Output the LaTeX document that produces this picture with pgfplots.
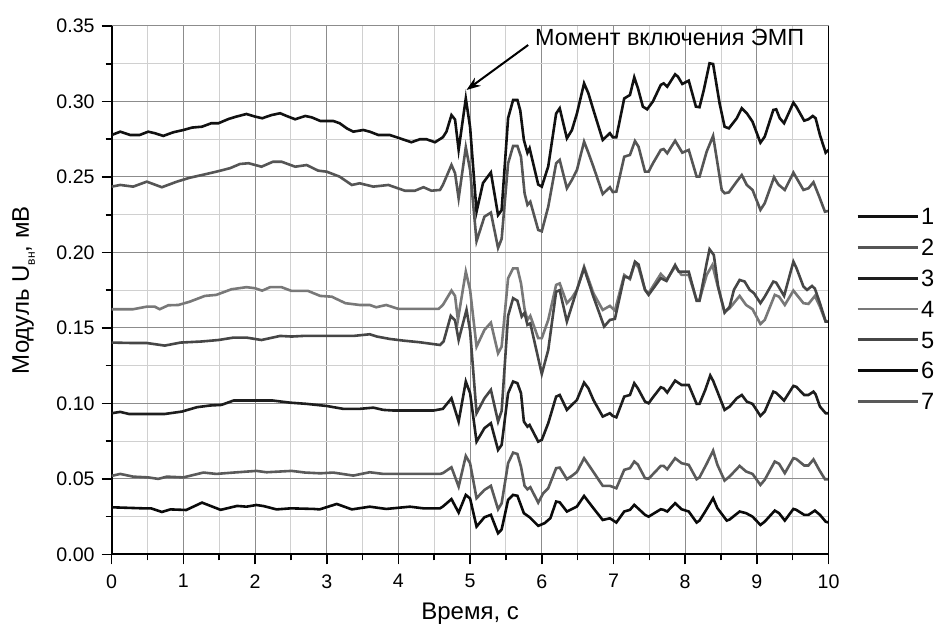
\documentclass[border=0pt]{standalone}
\usepackage{fontspec}
\setmainfont{Liberation Sans}
\usepackage{pgfplots}
\pgfplotsset{compat=1.18}
\usetikzlibrary{arrows.meta}

\definecolor{majgrid}{RGB}{140,140,140}
\definecolor{mingrid}{RGB}{208,208,208}
\definecolor{cA}{RGB}{17,17,17}
\definecolor{cB}{RGB}{85,85,85}
\definecolor{cC}{RGB}{30,30,30}
\definecolor{cD}{RGB}{120,120,120}
\definecolor{cE}{RGB}{70,70,70}
\definecolor{cF}{RGB}{10,10,10}
\definecolor{cG}{RGB}{90,90,90}

\begin{document}
\begin{tikzpicture}
\begin{axis}[
    scale only axis, width=358.5pt, height=264.25pt,
    xmin=0, xmax=10, ymin=0, ymax=0.35,
    xtick={0,1,2,3,4,5,6,7,8,9,10},
    ytick={0,0.05,0.1,0.15,0.2,0.25,0.3,0.35},
    minor x tick num=1, minor y tick num=1,
    grid=both,
    major grid style={majgrid, line width=0.5pt},
    minor grid style={mingrid, line width=0.5pt},
    axis lines=left, axis line style={-, black, line width=1pt},
    tick align=outside, major tick length=5pt, minor tick length=3pt,
    tick style={black, line width=0.8pt},
    /pgf/number format/assume math mode=true,
    ticklabel style={font=\fontsize{9.8}{11}\selectfont},
    xticklabel style={yshift=-1.5pt},
    yticklabel style={/pgf/number format/.cd, fixed, fixed zerofill, precision=2},
    xlabel={Время, с},
    ylabel={Модуль U\raisebox{-3pt}{\fontsize{6}{6}\selectfont вн}, мВ},
    label style={font=\fontsize{12}{14}\selectfont},
    xlabel style={at={(axis description cs:0.5,-0.092)}, anchor=north, inner sep=0pt},
    ylabel style={at={(axis description cs:-0.139,0.5)}, anchor=north, inner sep=0pt},
    legend cell align=left,
    legend image code/.code={\draw[#1, line width=1.45pt] (0pt,0pt) -- (30pt,0pt);},
    legend style={draw=none, fill=none, inner sep=0pt,
        font=\fontsize{11.8}{13}\selectfont,
        at={(1.038,0.4645)}, anchor=west, row sep=5pt,
        nodes={inner sep=1pt, text height=8.4pt, text depth=0pt}},
    clip mode=individual,
]
\addplot[cA, line width=1.3pt] coordinates {
(0,0.2778)(0.12,0.280)(0.26,0.2778)(0.39,0.2778)(0.51,0.280)(0.60,0.279)(0.72,0.2772)(0.86,0.2796)(1.0,0.2811)(1.12,0.2827)(1.26,0.2833)(1.39,0.2856)(1.49,0.2856)(1.63,0.2884)(1.74,0.290)(1.88,0.2917)(2.0,0.290)(2.10,0.2889)(2.23,0.291)(2.35,0.2922)(2.44,0.2904)(2.56,0.2882)(2.70,0.2904)(2.79,0.2895)(2.91,0.2871)(3.09,0.2871)(3.18,0.2856)(3.28,0.2822)(3.37,0.280)(3.51,0.2811)(3.60,0.280)(3.72,0.2778)(3.88,0.2778)(4.02,0.2756)(4.18,0.273)(4.30,0.275)(4.39,0.275)(4.51,0.273)(4.62,0.2763)
(4.67,0.280)(4.74,0.291)(4.79,0.288)(4.84,0.268)(4.94,0.302)(5.00,0.283)(5.09,0.227)(5.18,0.246)(5.29,0.253)(5.39,0.2248)(5.44,0.228)(5.53,0.289)(5.60,0.301)(5.66,0.301)(5.70,0.294)(5.75,0.2745)(5.80,0.266)(5.83,0.269)(5.95,0.245)(6.00,0.2436)(6.09,0.257)(6.20,0.292)(6.25,0.2955)(6.35,0.2756)(6.42,0.281)(6.49,0.292)(6.59,0.312)(6.65,0.3054)(6.72,0.2944)(6.85,0.2745)(6.95,0.279)(6.99,0.2763)(7.04,0.2763)(7.15,0.302)(7.23,0.3043)(7.29,0.316)(7.34,0.309)(7.41,0.2966)(7.47,0.2948)(7.55,0.300)(7.66,0.311)(7.70,0.312)(7.75,0.3098)(7.86,0.318)(7.90,0.3164)(7.96,0.3116)(8.05,0.3138)(8.15,0.2966)(8.20,0.2962)(8.26,0.3076)(8.34,0.3253)(8.39,0.3248)(8.48,0.2988)(8.55,0.2833)(8.61,0.2822)(8.72,0.2889)(8.79,0.2955)(8.86,0.2922)(8.94,0.2866)(9.05,0.2727)(9.11,0.2767)(9.23,0.2944)(9.27,0.2948)(9.32,0.2889)(9.38,0.2856)(9.51,0.2992)(9.55,0.2966)(9.66,0.2873)(9.72,0.2882)(9.78,0.2904)(9.82,0.2889)(9.88,0.2778)(9.96,0.2661)(10.0,0.2679)
};
\addlegendentry{1}
\addplot[cB, line width=1.3pt] coordinates {
(0,0.2436)(0.12,0.2447)(0.30,0.2436)(0.49,0.2469)(0.70,0.2432)(0.91,0.2469)(1.09,0.2495)(1.26,0.2513)(1.46,0.2535)(1.65,0.2558)(1.79,0.2586)(1.91,0.2591)(2.09,0.2568)(2.25,0.2601)(2.37,0.2601)(2.56,0.2568)(2.72,0.2579)(2.88,0.2542)(3.0,0.2535)(3.18,0.2502)(3.35,0.2447)(3.46,0.2458)(3.65,0.2436)(3.86,0.2447)(4.09,0.2409)(4.23,0.2409)(4.35,0.2432)(4.46,0.2409)(4.58,0.2414)(4.62,0.2447)
(4.74,0.258)(4.79,0.2525)(4.84,0.2359)(4.94,0.2697)(5.00,0.2546)(5.09,0.2075)(5.20,0.2237)(5.29,0.2264)(5.39,0.203)(5.44,0.209)(5.53,0.259)(5.60,0.2705)(5.66,0.2705)(5.71,0.2634)(5.76,0.2392)(5.80,0.2315)(5.84,0.2336)(5.95,0.2149)(6.00,0.214)(6.09,0.2303)(6.20,0.259)(6.25,0.2613)(6.35,0.2425)(6.42,0.248)(6.49,0.2546)(6.59,0.2734)(6.65,0.266)(6.72,0.2568)(6.85,0.2387)(6.95,0.2432)(6.99,0.2400)(7.04,0.2403)(7.15,0.2634)(7.23,0.2646)(7.30,0.2738)(7.35,0.270)(7.44,0.2535)(7.49,0.2535)(7.55,0.259)(7.66,0.2679)(7.70,0.2685)(7.75,0.2657)(7.86,0.274)(7.96,0.2661)(8.05,0.2679)(8.16,0.2502)(8.20,0.2502)(8.30,0.2668)(8.39,0.2772)(8.51,0.2414)(8.55,0.2392)(8.61,0.2398)(8.72,0.2470)(8.79,0.2513)(8.86,0.2447)(8.94,0.2414)(9.05,0.2282)(9.11,0.2326)(9.24,0.2498)(9.30,0.2450)(9.39,0.2414)(9.51,0.2529)(9.65,0.2414)(9.72,0.2425)(9.79,0.2465)(9.87,0.2370)(9.95,0.2270)(10.0,0.2275)
};
\addlegendentry{2}
\addplot[cC, line width=1.3pt] coordinates {
(0,0.0935)(0.12,0.0944)(0.24,0.093)(0.74,0.093)(0.98,0.0946)(1.19,0.0975)(1.37,0.0986)(1.53,0.099)(1.70,0.1019)(1.88,0.1019)(2.25,0.1019)(2.49,0.1005)(2.72,0.0997)(3.0,0.0983)(3.23,0.0964)(3.46,0.0964)(3.65,0.0972)(3.79,0.0957)(3.93,0.0953)(4.49,0.0953)(4.62,0.0964)
(4.74,0.1034)(4.84,0.088)(4.94,0.1145)(5.00,0.1068)(5.09,0.0747)(5.20,0.0836)(5.29,0.0869)(5.39,0.0692)(5.44,0.0725)(5.53,0.1068)(5.60,0.1145)(5.66,0.1134)(5.71,0.1068)(5.75,0.088)(5.80,0.0846)(5.83,0.0857)(5.95,0.0747)(6.00,0.0758)(6.09,0.0869)(6.20,0.1045)(6.25,0.1056)(6.35,0.0957)(6.42,0.099)(6.49,0.1023)(6.59,0.1138)(6.65,0.110)(6.72,0.1023)(6.85,0.0913)(6.95,0.0935)(6.99,0.0917)(7.04,0.0908)(7.15,0.1045)(7.23,0.1056)(7.29,0.1134)(7.34,0.1100)(7.44,0.1012)(7.49,0.1001)(7.55,0.104)(7.66,0.1107)(7.70,0.110)(7.75,0.1072)(7.86,0.1151)(7.95,0.1122)(8.05,0.1122)(8.16,0.0997)(8.20,0.0997)(8.28,0.1089)(8.35,0.1185)(8.39,0.1150)(8.45,0.1078)(8.55,0.0957)(8.62,0.0979)(8.72,0.1034)(8.79,0.1056)(8.86,0.1012)(8.94,0.0997)(9.05,0.0917)(9.11,0.0946)(9.23,0.1078)(9.27,0.1070)(9.38,0.1019)(9.51,0.1116)(9.55,0.111)(9.66,0.1056)(9.72,0.1056)(9.79,0.1078)(9.82,0.106)(9.88,0.0979)(9.96,0.0935)(10.0,0.0935)
};
\addlegendentry{3}
\addplot[cD, line width=1.3pt] coordinates {
(0,0.1624)(0.30,0.1624)(0.49,0.1641)(0.60,0.1641)(0.67,0.1624)(0.79,0.165)(0.93,0.1652)(1.09,0.1674)(1.30,0.1712)(1.46,0.1719)(1.67,0.1756)(1.88,0.177)(2.0,0.1763)(2.10,0.1747)(2.21,0.177)(2.37,0.177)(2.51,0.1745)(2.74,0.1745)(2.91,0.1712)(3.07,0.1707)(3.26,0.1664)(3.46,0.1652)(3.60,0.1652)(3.69,0.1637)(3.83,0.1652)(4.0,0.1626)(4.56,0.1626)(4.62,0.1652)
(4.74,0.1747)(4.79,0.1712)(4.83,0.1553)(4.94,0.1873)(5.00,0.1752)(5.09,0.1376)(5.20,0.1487)(5.29,0.1535)(5.39,0.1332)(5.44,0.1376)(5.53,0.1829)(5.60,0.1895)(5.66,0.1895)(5.71,0.1796)(5.76,0.1624)(5.80,0.1553)(5.84,0.158)(5.95,0.1432)(6.00,0.1432)(6.09,0.1553)(6.20,0.1785)(6.25,0.1795)(6.35,0.1664)(6.42,0.170)(6.49,0.1752)(6.59,0.1906)(6.72,0.173)(6.85,0.1619)(6.95,0.1646)(7.02,0.1615)(7.15,0.1851)(7.23,0.1823)(7.30,0.1932)(7.35,0.190)(7.44,0.1752)(7.49,0.173)(7.66,0.1858)(7.74,0.1818)(7.86,0.1906)(7.95,0.1851)(8.05,0.1851)(8.16,0.1685)(8.20,0.1685)(8.30,0.1851)(8.38,0.1917)(8.45,0.1785)(8.55,0.1608)(8.62,0.163)(8.76,0.1712)(8.85,0.1652)(8.94,0.1624)(9.05,0.1526)(9.11,0.1553)(9.25,0.1719)(9.31,0.1707)(9.39,0.1652)(9.51,0.1747)(9.65,0.1664)(9.72,0.1659)(9.81,0.1712)(9.88,0.1641)(9.96,0.1542)(10.0,0.1542)
};
\addlegendentry{4}
\addplot[cE, line width=1.3pt] coordinates {
(0,0.1403)(0.30,0.140)(0.49,0.140)(0.74,0.1383)(0.96,0.1403)(1.25,0.141)(1.49,0.142)(1.70,0.1436)(1.88,0.1436)(2.09,0.142)(2.35,0.1447)(2.51,0.1443)(2.67,0.1447)(3.0,0.1447)(3.37,0.1447)(3.60,0.1458)(3.70,0.1443)(3.88,0.1427)(4.07,0.1416)(4.30,0.1405)(4.58,0.1387)(4.63,0.141)
(4.73,0.158)(4.79,0.155)(4.84,0.142)(4.95,0.162)(5.00,0.148)(5.09,0.0935)(5.20,0.1034)(5.29,0.109)(5.39,0.088)(5.44,0.095)(5.53,0.158)(5.60,0.1697)(5.66,0.168)(5.72,0.1575)(5.76,0.160)(5.80,0.152)(5.84,0.153)(6.00,0.1195)(6.09,0.1354)(6.20,0.174)(6.25,0.175)(6.35,0.1542)(6.49,0.1752)(6.59,0.1895)(6.72,0.1707)(6.87,0.1509)(6.95,0.1553)(7.02,0.156)(7.15,0.184)(7.23,0.183)(7.30,0.1939)(7.35,0.192)(7.44,0.1752)(7.49,0.1719)(7.66,0.183)(7.74,0.1811)(7.86,0.1917)(7.91,0.1873)(8.05,0.1873)(8.16,0.168)(8.20,0.168)(8.30,0.1929)(8.34,0.2021)(8.40,0.1983)(8.46,0.1774)(8.55,0.1601)(8.62,0.164)(8.68,0.1752)(8.76,0.1818)(8.83,0.1807)(8.90,0.1752)(8.96,0.173)(9.05,0.1664)(9.11,0.1707)(9.23,0.1807)(9.27,0.180)(9.38,0.1712)(9.51,0.1939)(9.55,0.190)(9.65,0.1774)(9.70,0.1752)(9.77,0.1778)(9.81,0.176)(9.88,0.1664)(9.96,0.1542)(10.0,0.1542)
};
\addlegendentry{5}
\addplot[cF, line width=1.3pt] coordinates {
(0,0.0312)(0.44,0.0305)(0.55,0.0305)(0.70,0.0281)(0.82,0.0298)(1.04,0.0294)(1.26,0.0343)(1.52,0.0295)(1.75,0.0321)(1.88,0.0316)(2.02,0.0327)(2.12,0.0320)(2.30,0.0298)(2.50,0.0305)(2.82,0.0301)(2.90,0.0298)(3.14,0.0334)(3.35,0.0298)(3.60,0.0316)(3.83,0.0301)(4.16,0.0316)(4.35,0.0305)(4.58,0.0305)(4.62,0.0317)
(4.74,0.0366)(4.84,0.0277)(4.94,0.0394)(5.00,0.0370)(5.09,0.0184)(5.20,0.0246)(5.29,0.0262)(5.39,0.014)(5.44,0.0165)(5.53,0.0361)(5.60,0.0394)(5.66,0.0388)(5.75,0.0273)(5.83,0.0246)(5.95,0.0189)(6.04,0.0207)(6.12,0.024)(6.20,0.035)(6.25,0.0345)(6.35,0.0284)(6.49,0.0317)(6.59,0.0387)(6.72,0.0306)(6.85,0.0228)(6.95,0.0239)(7.04,0.0211)(7.15,0.0284)(7.23,0.0295)(7.29,0.0328)(7.34,0.0306)(7.44,0.0262)(7.49,0.025)(7.66,0.0299)(7.70,0.0295)(7.75,0.0284)(7.86,0.0339)(7.95,0.0299)(8.05,0.0284)(8.16,0.0211)(8.20,0.0224)(8.28,0.0284)(8.39,0.0372)(8.45,0.0306)(8.58,0.0224)(8.62,0.0231)(8.76,0.0284)(8.85,0.0273)(8.94,0.025)(9.05,0.0195)(9.11,0.0217)(9.25,0.029)(9.31,0.0273)(9.39,0.0224)(9.51,0.0301)(9.55,0.0295)(9.66,0.0262)(9.72,0.0262)(9.81,0.029)(9.88,0.0262)(9.96,0.0217)(10.0,0.0211)
};
\addlegendentry{6}
\addplot[cG, line width=1.3pt] coordinates {
(0,0.052)(0.12,0.0533)(0.30,0.0515)(0.51,0.051)(0.65,0.050)(0.77,0.0515)(1.0,0.051)(1.28,0.0542)(1.46,0.0533)(1.70,0.0542)(2.02,0.0553)(2.16,0.0544)(2.51,0.0553)(2.70,0.0542)(2.91,0.0537)(3.09,0.0542)(3.37,0.0522)(3.60,0.0544)(3.79,0.0533)(4.58,0.0533)(4.62,0.0538)
(4.74,0.0577)(4.84,0.0449)(4.94,0.0652)(5.00,0.0603)(5.09,0.0372)(5.20,0.0427)(5.29,0.0454)(5.39,0.0299)(5.44,0.0338)(5.53,0.0604)(5.60,0.0674)(5.66,0.0665)(5.71,0.0581)(5.76,0.0454)(5.80,0.0431)(5.84,0.0445)(5.95,0.0343)(6.02,0.0405)(6.09,0.0438)(6.20,0.0571)(6.25,0.0575)(6.35,0.0498)(6.42,0.052)(6.49,0.0546)(6.59,0.0637)(6.72,0.0546)(6.85,0.0454)(6.95,0.0454)(7.04,0.0438)(7.15,0.056)(7.23,0.0571)(7.29,0.0615)(7.34,0.0595)(7.44,0.0505)(7.49,0.0501)(7.66,0.0586)(7.70,0.0586)(7.75,0.0564)(7.86,0.0637)(7.95,0.0604)(8.05,0.0593)(8.16,0.0498)(8.20,0.0510)(8.30,0.0600)(8.39,0.0687)(8.45,0.0593)(8.55,0.0489)(8.62,0.0516)(8.76,0.0586)(8.85,0.0549)(8.94,0.0533)(9.05,0.046)(9.11,0.0494)(9.25,0.0615)(9.31,0.060)(9.39,0.0538)(9.51,0.0637)(9.55,0.0632)(9.66,0.0589)(9.72,0.0589)(9.79,0.0629)(9.87,0.0560)(9.95,0.0498)(10.0,0.0498)
};
\addlegendentry{7}
\draw[black, line width=0.9pt] (rel axis cs:1,0) -- (rel axis cs:1,1);
\draw[-{Stealth[length=7pt,width=5pt]}, line width=1pt] (axis cs:5.81,0.3374) -- (axis cs:4.95,0.3076);
\node[anchor=base west, inner sep=0pt, font=\fontsize{11.7}{13}\selectfont] at (axis cs:5.90,0.3374) {Момент включения ЭМП};
\coordinate (SW) at (rel axis cs:0,0);
\coordinate (NE) at (rel axis cs:1,1);
\end{axis}
\pgfresetboundingbox
\path[use as bounding box] ([shift={(-55.85pt,-41.25pt)}]SW) rectangle ([shift={(53.75pt,13pt)}]NE);
\end{tikzpicture}
\end{document}
